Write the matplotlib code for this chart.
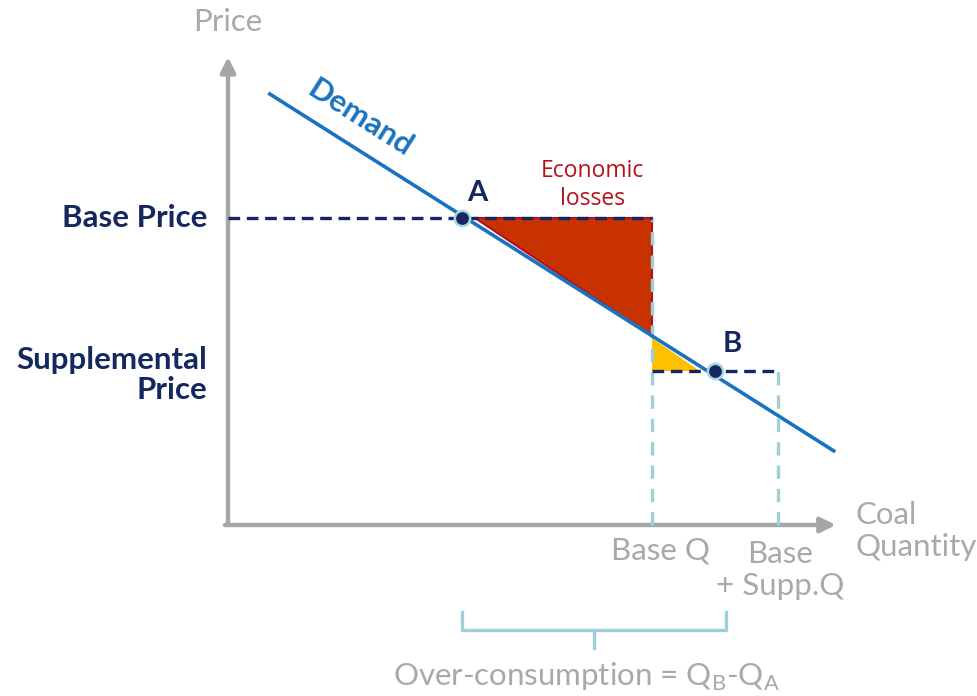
import matplotlib
matplotlib.use("Agg")
import matplotlib.pyplot as plt
from matplotlib.patches import Polygon

# ---------------- data (units: chart units, origin at axes corner) ----------------
demand_q = [0.67, 10.12]
demand_p = [7.20, 1.22]
point_a = (3.90, 5.12)
point_b = (8.12, 2.57)
base_q = 7.07
supp_q = 9.17
base_price = 5.12
supp_price = 2.57
loss_tri_q = [4.12, 7.07, 7.07]
loss_tri_p = [5.12, 5.12, 3.15]
gain_tri_q = [7.07, 7.07, 7.87]
gain_tri_p = [3.12, 2.57, 2.57]
x_axis_end = 10.13
y_axis_end = 7.80
bracket_q = [3.90, 8.30]

NAVY = "#15275f"
BLUE = "#1a73c0"
GREY = "#a6a6a6"
TGREY = "#a9a9a9"
LBLUE = "#9fd0da"
RED = "#c83200"
YELLOW = "#ffc000"
TXTRED = "#b5121b"

fig = plt.figure(figsize=(9.77, 6.96), dpi=100)
ax = fig.add_axes([0, 0, 1, 1])
ax.set_xlim(-3.8, 12.483)
ax.set_ylim(-2.85, 8.75)
ax.axis("off")

# axes arrows
ax.annotate("", xy=(0, y_axis_end), xytext=(0, 0),
            arrowprops=dict(arrowstyle="-|>,head_width=0.45,head_length=0.9",
                            color=GREY, lw=3.2, shrinkA=0, shrinkB=0))
ax.annotate("", xy=(x_axis_end, 0), xytext=(-0.05, 0),
            arrowprops=dict(arrowstyle="-|>,head_width=0.45,head_length=0.9",
                            color=GREY, lw=3.2, shrinkA=0, shrinkB=0))

# triangles
ax.add_patch(Polygon(list(zip(loss_tri_q, loss_tri_p)), closed=True,
                     facecolor=RED, edgecolor="#b01020", lw=1.5, zorder=2))
ax.add_patch(Polygon(list(zip(gain_tri_q, gain_tri_p)), closed=True,
                     facecolor=YELLOW, edgecolor="none", zorder=2))

# light blue vertical dashed lines
ax.plot([base_q, base_q], [0, base_price], color=LBLUE, lw=2.4,
        dashes=(4, 3), zorder=3)
ax.plot([supp_q, supp_q], [0, supp_price], color=LBLUE, lw=2.4,
        dashes=(4, 3), zorder=3)

# navy horizontal dashed lines
ax.plot([0, base_q], [base_price, base_price], color=NAVY, lw=2.4,
        dashes=(3.5, 2), zorder=4)
ax.plot([base_q, supp_q], [supp_price, supp_price], color=NAVY, lw=2.4,
        dashes=(3.5, 2), zorder=4)

# demand line
ax.plot(demand_q, demand_p, color=BLUE, lw=2.6, solid_capstyle="butt", zorder=5)

# points
for pt in (point_a, point_b):
    ax.plot(*pt, "o", ms=11, mfc=NAVY, mec="#a9d6e5", mew=1.8, zorder=6)

# bracket
by_top, by_mid, by_bot = -1.45, -1.75, -2.05
bmid = sum(bracket_q) / 2
ax.plot([bracket_q[0], bracket_q[0], bracket_q[1], bracket_q[1]],
        [by_top, by_mid, by_mid, by_top], color=LBLUE, lw=2.4)
ax.plot([bmid, bmid], [by_mid, by_bot], color=LBLUE, lw=2.4)

# texts
F = "Lato"
GS = 22.5
ax.text(0, 8.38, "Price", color=TGREY, fontsize=GS, family=F,
        ha="center", va="center")
ax.text(10.45, -0.1, "Coal\nQuantity", color=TGREY, fontsize=GS, family=F,
        ha="left", va="center", linespacing=1.15)
ax.text(7.2, -0.43, "Base Q", color=TGREY, fontsize=GS, family=F,
        ha="center", va="center")
ax.text(9.2, -0.75, "Base\n+ Supp.Q", color=TGREY, fontsize=GS, family=F,
        ha="center", va="center", multialignment="center", linespacing=1.15)
ax.text(-0.35, base_price, "Base Price", color=NAVY, fontsize=22.5, family=F,
        weight="bold", ha="right", va="center")
ax.text(-0.35, 2.50, "Supplemental\nPrice", color=NAVY, fontsize=22.5, family=F,
        weight="bold", ha="right", va="center", multialignment="right",
        linespacing=1.1)
ax.text(point_a[0] + 0.25, point_a[1] + 0.42, "A", color=NAVY, fontsize=21,
        family=F, weight="bold", ha="center", va="center")
ax.text(point_b[0] + 0.28, point_b[1] + 0.45, "B", color=NAVY, fontsize=21,
        family=F, weight="bold", ha="center", va="center")
ax.text(6.07, 5.67, "Economic\nlosses", color=TXTRED, fontsize=16.5,
        family="Open Sans", ha="center", va="center", linespacing=1.25)
ax.text(2.2, 6.78, "Demand", color=BLUE, fontsize=22.5, family=F, weight="bold",
        rotation=-32.5, rotation_mode="anchor", ha="center", va="center")
ax.text(5.98, -2.53, r"Over-consumption = Q$_\mathregular{B}$-Q$_\mathregular{A}$",
        color=TGREY, fontsize=GS, family=F, ha="center", va="center")

fig.savefig("out.png", dpi=100)
